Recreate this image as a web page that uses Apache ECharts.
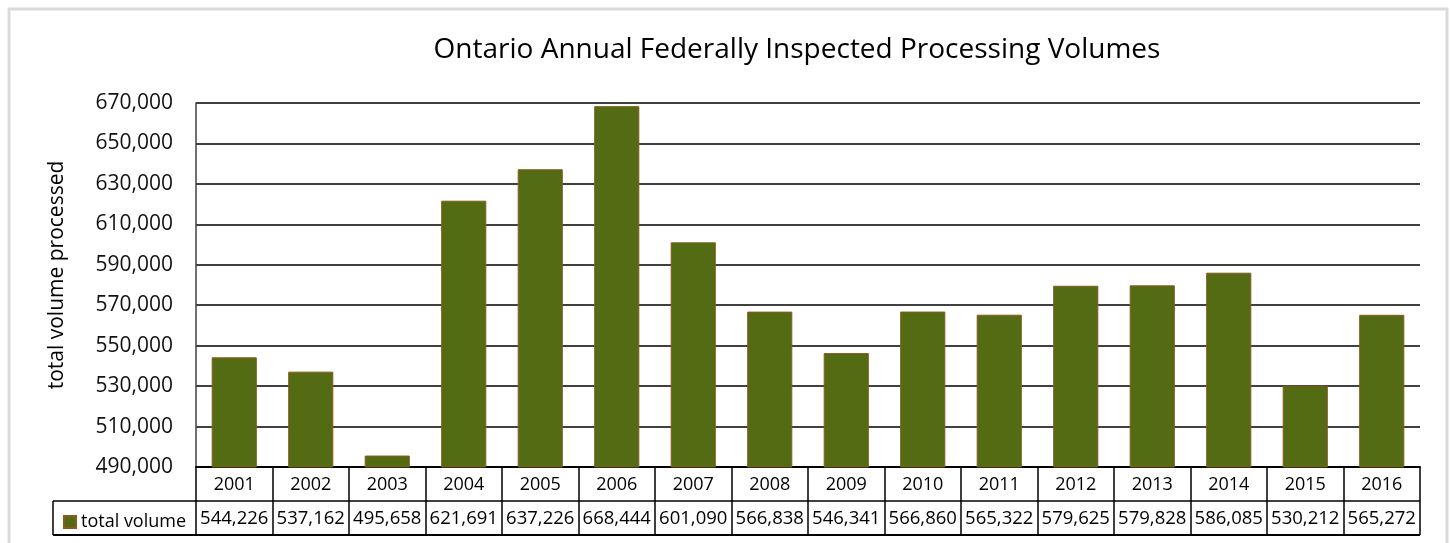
<!DOCTYPE html>
<html>
<head>
<meta charset="utf-8">
<script src="https://cdn.jsdelivr.net/npm/echarts@6/dist/echarts.min.js"></script>
<style>
  html, body { margin: 0; padding: 0; background: #fff; }
  #chart { width: 1450px; height: 543px; }
</style>
</head>
<body>
<div id="chart"></div>
<script>
const titleText = 'Ontario Annual Federally Inspected Processing Volumes';
const yAxisTitle = 'total volume processed';
const seriesName = 'total volume';
const years = ['2001','2002','2003','2004','2005','2006','2007','2008','2009','2010','2011','2012','2013','2014','2015','2016'];
const volumes = [544226, 537162, 495658, 621691, 637226, 668444, 601090, 566838, 546341, 566860, 565322, 579625, 579828, 586085, 530212, 565272];
const yMin = 490000;
const yMax = 670000;
const yStep = 20000;

const fmt = v => String(v).replace(/\B(?=(\d{3})+(?!\d))/g, ',');
const FONT = 'Open Sans';

const chart = echarts.init(document.getElementById('chart'));
chart.setOption({
  animation: false,
  backgroundColor: '#ffffff',
  title: {
    text: titleText,
    left: 792,
    top: 31,
    textAlign: 'center',
    textStyle: { fontFamily: FONT, fontSize: 28, fontWeight: 'normal', color: '#000' }
  },
  legend: {
    data: [seriesName],
    left: 58,
    top: 508,
    icon: 'rect',
    itemWidth: 12,
    itemHeight: 12,
    itemGap: 5,
    textStyle: { fontFamily: FONT, fontSize: 18, color: '#000', padding: [0, 0, 0, 0] }
  },
  grid: { left: 196, right: 30, top: 103, bottom: 76, containLabel: false },
  xAxis: [
    {
      type: 'category',
      data: years,
      position: 'bottom',
      boundaryGap: true,
      axisLine: { show: true, lineStyle: { color: '#000', width: 2 } },
      axisTick: { show: true, interval: 0, length: 68, lineStyle: { color: '#000', width: 1.5 } },
      axisLabel: { interval: 0, margin: 8, fontFamily: FONT, fontSize: 18, lineHeight: 20, color: '#000' }
    },
    {
      type: 'category',
      data: volumes.map(fmt),
      position: 'bottom',
      offset: 34,
      boundaryGap: true,
      axisLine: { show: false },
      axisTick: { show: false },
      axisLabel: { interval: 0, margin: 8, fontFamily: FONT, fontSize: 18.5, lineHeight: 20, color: '#000' }
    }
  ],
  yAxis: {
    type: 'value',
    min: yMin,
    max: yMax,
    interval: yStep,
    name: yAxisTitle,
    nameLocation: 'middle',
    nameRotate: 90,
    nameGap: 128,
    nameTextStyle: { fontFamily: FONT, fontSize: 21, color: '#000', padding: [0, 0, 0, 20] },
    axisLine: { show: true, lineStyle: { color: '#404040', width: 1.5 } },
    axisTick: { show: false },
    axisLabel: { margin: 23, fontFamily: FONT, fontSize: 21, color: '#111', formatter: v => fmt(v) },
    splitLine: { show: true, lineStyle: { color: '#404040', width: 2 } }
  },
  series: [{
    name: seriesName,
    type: 'bar',
    data: volumes,
    barWidth: '59%',
    itemStyle: { color: '#536b12', borderColor: '#8a5a1f', borderWidth: 1 }
  }],
  graphic: [
    { type: 'rect', shape: { x: 9, y: 9, width: 1438, height: 560 }, style: { fill: 'none', stroke: '#d9d9d9', lineWidth: 3 }, silent: true },
    { type: 'line', shape: { x1: 53, y1: 501, x2: 1420, y2: 501 }, style: { stroke: '#000', lineWidth: 1.5 }, silent: true },
    { type: 'line', shape: { x1: 53, y1: 535, x2: 1420, y2: 535 }, style: { stroke: '#000', lineWidth: 2 }, silent: true },
    { type: 'line', shape: { x1: 53, y1: 501, x2: 53, y2: 535 }, style: { stroke: '#000', lineWidth: 1.5 }, silent: true }
  ]
});
</script>
</body>
</html>
